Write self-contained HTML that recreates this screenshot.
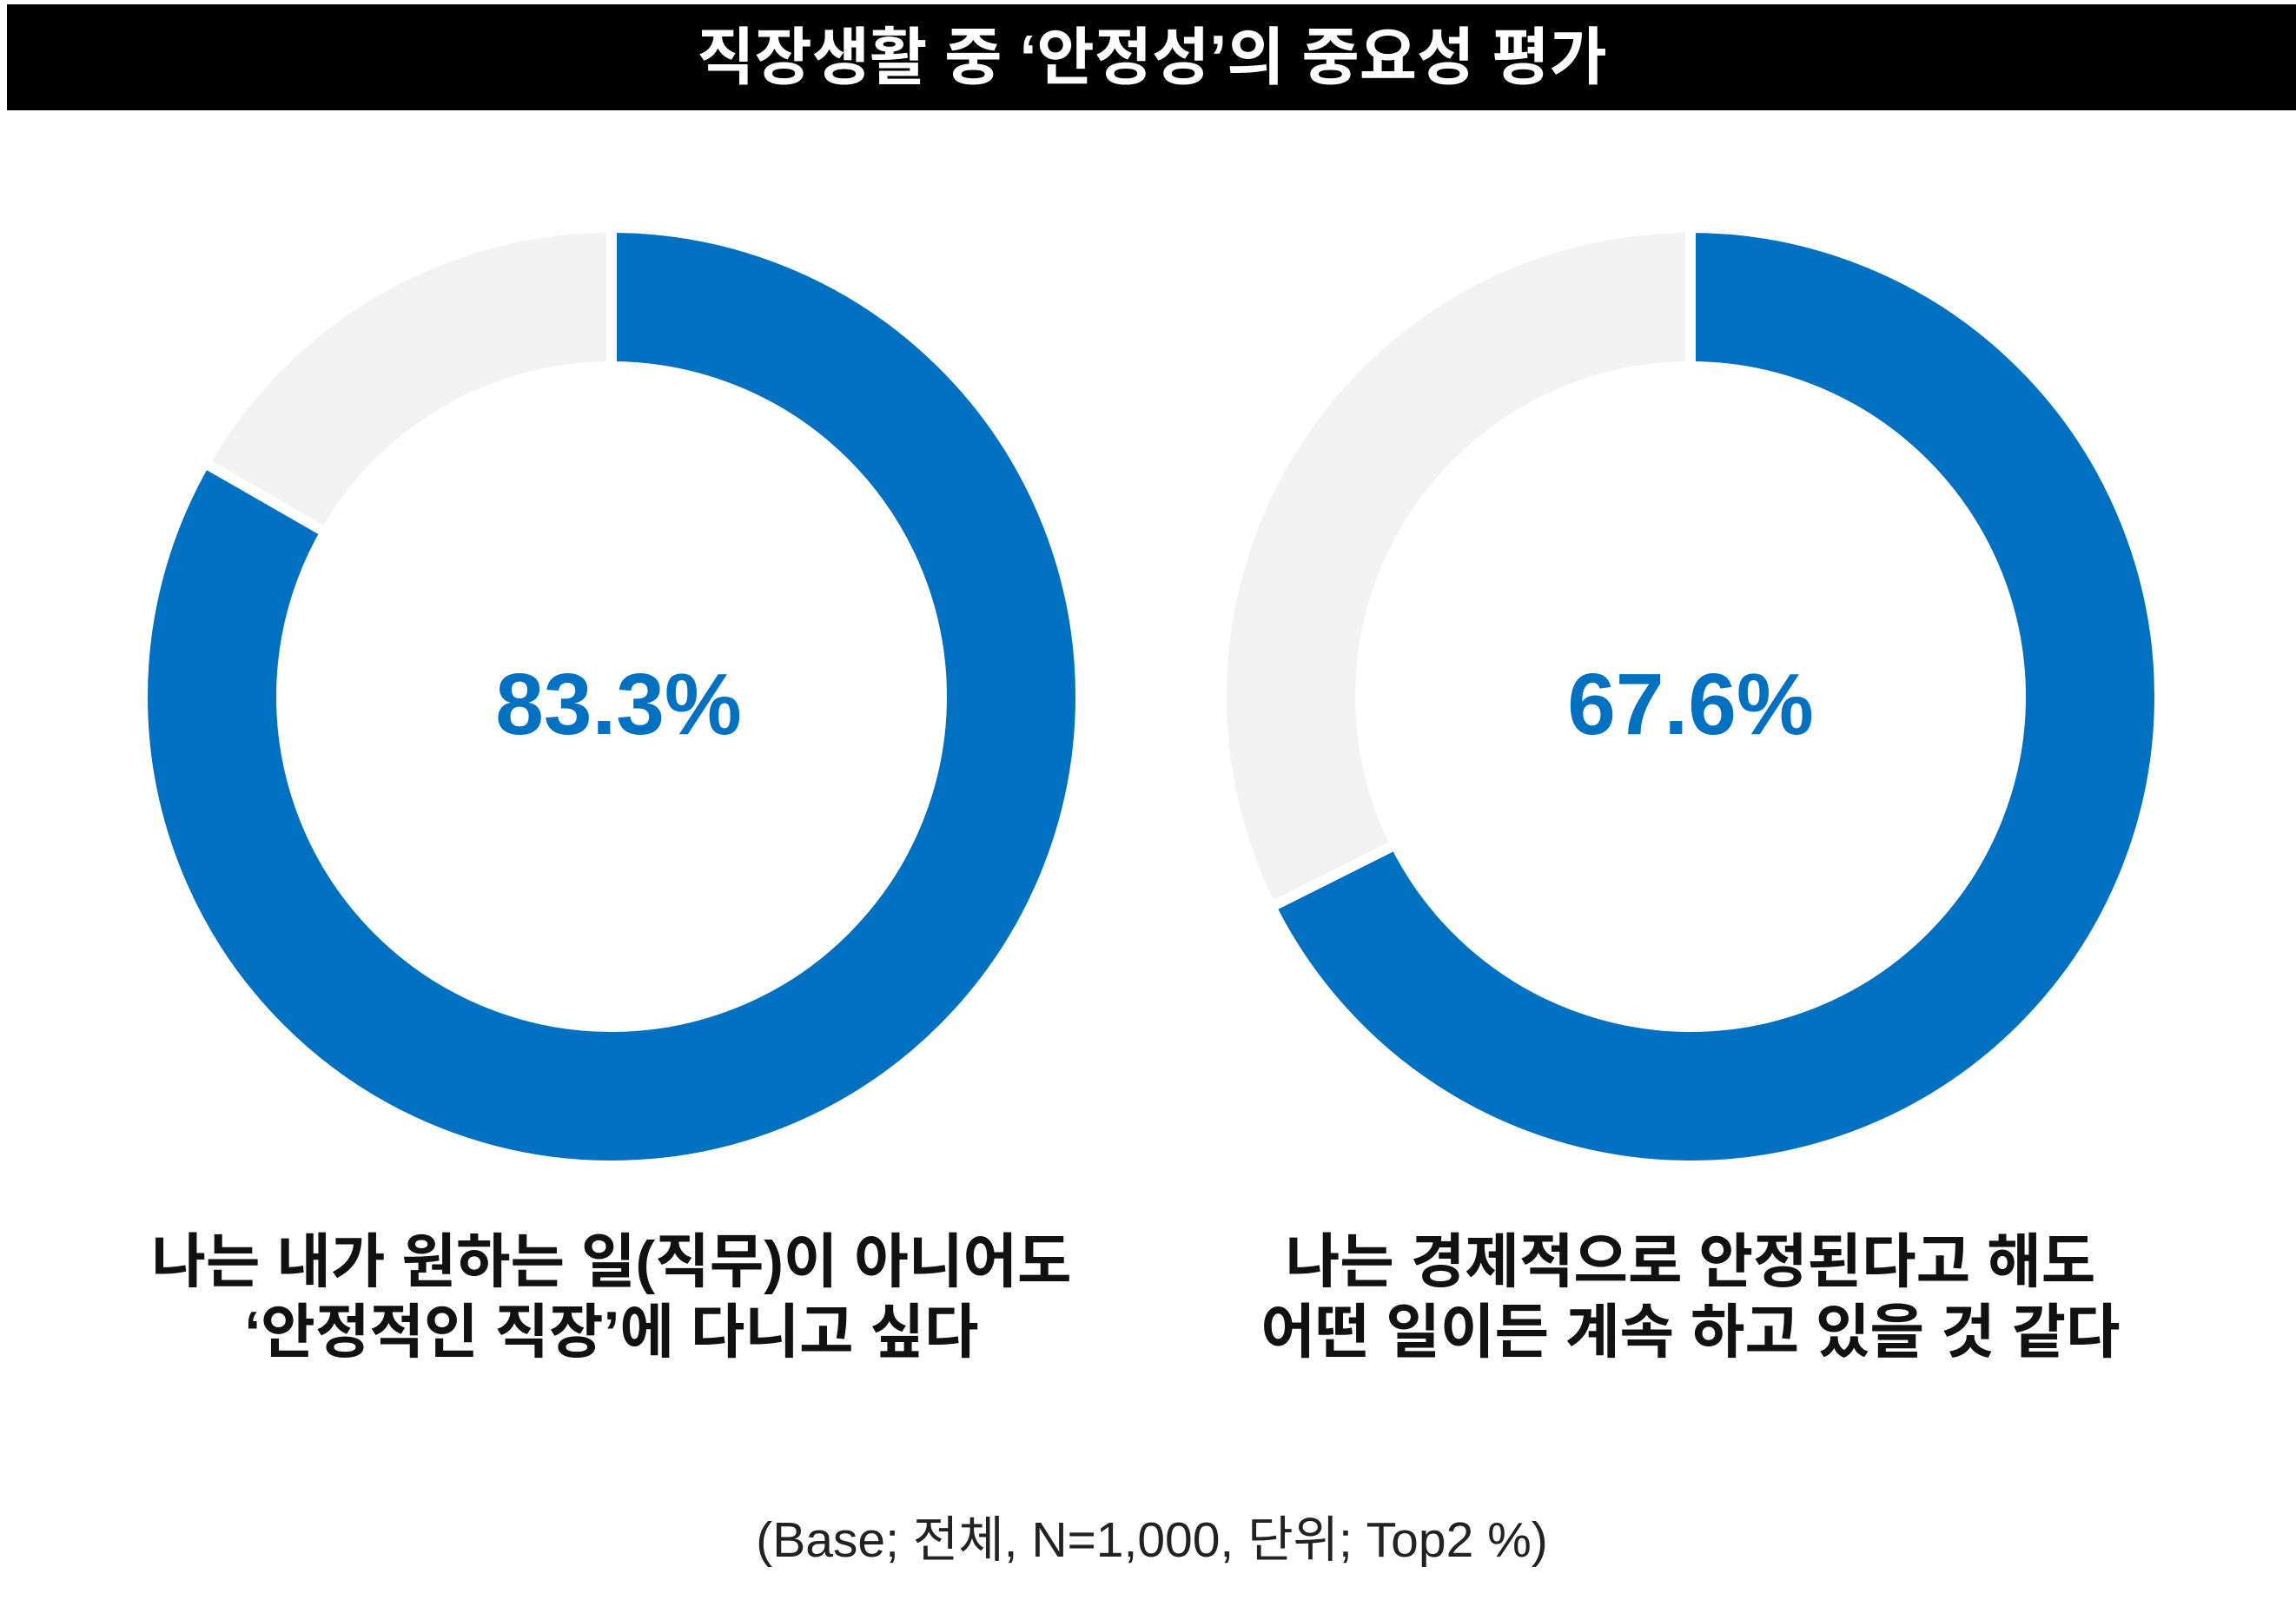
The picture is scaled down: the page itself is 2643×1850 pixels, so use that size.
<!DOCTYPE html>
<html><head><meta charset="utf-8"><style>
html,body{margin:0;padding:0;background:#fff;}
svg{display:block;}
text{font-family:"Liberation Sans","Noto Sans CJK KR",sans-serif;}
</style></head><body>
<svg width="2643" height="1850" viewBox="0 0 2643 1850" xmlns="http://www.w3.org/2000/svg">
<rect x="0" y="0" width="2643" height="1850" fill="#fff"/>
<rect x="8" y="5" width="2635" height="122" fill="#000"/>
<text x="1326" y="91" font-size="72" font-weight="bold" fill="#fff" text-anchor="middle">직장생활 중 ‘안정성’의 중요성 평가</text>

<!-- left donut -->
<circle cx="704" cy="802" r="460" fill="none" stroke="#F2F2F2" stroke-width="148"/>
<circle cx="704" cy="802" r="460" fill="none" stroke="#0070C0" stroke-width="148" stroke-dasharray="2407.6 3000" transform="rotate(-90 704 802)"/>
<line x1="704" y1="422" x2="704" y2="255" stroke="#fff" stroke-width="12"/>
<line x1="374.5" y1="612.7" x2="235.8" y2="533" stroke="#fff" stroke-width="12"/>
<text x="712" y="845" font-size="100" font-weight="bold" fill="#0070C0" text-anchor="middle">83.3%</text>

<!-- right donut -->
<circle cx="1946" cy="802" r="460" fill="none" stroke="#F2F2F2" stroke-width="148"/>
<circle cx="1946" cy="802" r="460" fill="none" stroke="#0070C0" stroke-width="148" stroke-dasharray="1953.8 3000" transform="rotate(-90 1946 802)"/>
<line x1="1946" y1="422" x2="1946" y2="255" stroke="#fff" stroke-width="12"/>
<line x1="1606.4" y1="972.4" x2="1463.3" y2="1044.1" stroke="#fff" stroke-width="12"/>
<text x="1946" y="845" font-size="100" font-weight="bold" fill="#0070C0" text-anchor="middle">67.6%</text>

<text x="704" y="1476" font-size="68" font-weight="bold" fill="#111" text-anchor="middle">나는 내가 원하는 일(직무)이 아니어도</text>
<text x="704" y="1557" font-size="68" font-weight="bold" fill="#111" text-anchor="middle">‘안정적인 직장’에 다니고 싶다</text>
<text x="1946" y="1476" font-size="68" font-weight="bold" fill="#111" text-anchor="middle">나는 경제적으로 안정된다고 해도</text>
<text x="1946" y="1557" font-size="68" font-weight="bold" fill="#111" text-anchor="middle">어떤 일이든 계속 하고 있을 것 같다</text>

<text x="1326" y="1792" font-size="57" fill="#222" text-anchor="middle">(Base; 전체, N=1,000, 단위; Top2 %)</text>
</svg>
</body></html>
